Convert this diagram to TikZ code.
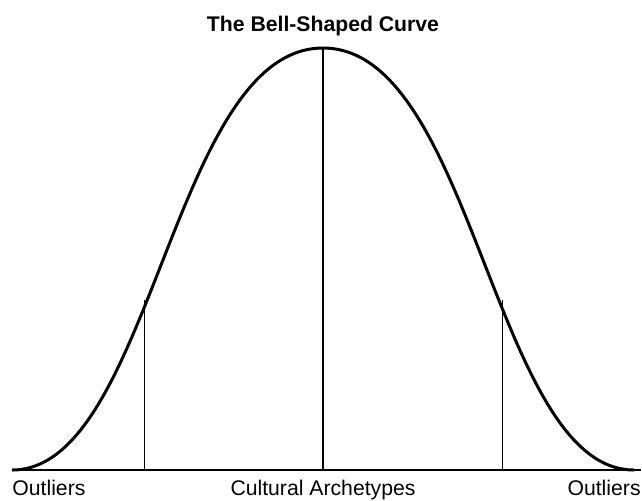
\documentclass[tikz,border=0pt]{standalone}
\usepackage{fontspec}
\setmainfont{Liberation Sans}
\begin{document}
\begin{tikzpicture}[
x=0.5pt, y=-0.5pt,
txt/.style={font=\fontsize{10.6}{12}\selectfont, inner sep=0pt},
heading/.style={txt, font=\fontsize{10.6}{12}\selectfont\bfseries},
bell/.style={line width=1.5pt, line join=round},
axis/.style={line width=1pt},
divider/.style={line width=0.5pt}
]
\useasboundingbox (0,0) rectangle (642,500);
\coordinate (lefttail) at (12,470);
\coordinate (peak) at (323,48);
\coordinate (righttail) at (634,470);
\coordinate (axisend) at (641,470);
\coordinate (centerbase) at (323,470);
\coordinate (leftbase) at (144,470);
\coordinate (rightbase) at (502,470);
\coordinate (leftcut) at (144,300);
\coordinate (rightcut) at (502,300);

% curve
\draw[bell] (lefttail) .. controls (152,470) and (172,48) .. (peak)
  .. controls (474,48) and (494,470) .. (righttail);
\draw[axis] (lefttail) -- (axisend);
\draw[line width=0.8pt] (centerbase) -- (peak);
\draw[divider] (leftbase) -- (leftcut);
\draw[divider] (rightbase) -- (rightcut);

% labels
\node[heading, anchor=base] (title) at (323,31) {The Bell-Shaped Curve};
\node[txt, anchor=base west] (outleft) at (12,495) {Outliers};
\node[txt, anchor=base] (middle) at (323,495) {Cultural Archetypes};
\node[txt, anchor=base east] (outright) at (641,495) {Outliers};
\end{tikzpicture}
\end{document}
